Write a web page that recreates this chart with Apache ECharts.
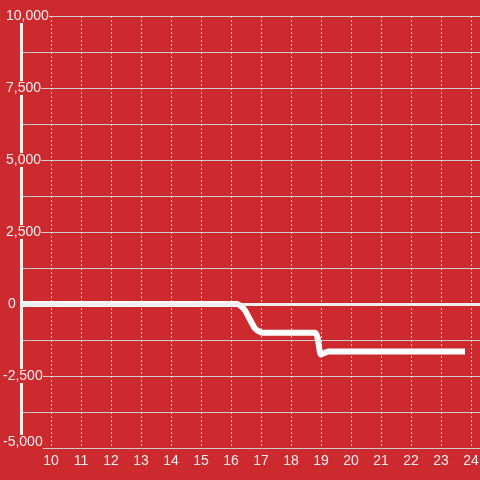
<!DOCTYPE html>
<html>
<head>
<meta charset="utf-8">
<script src="https://cdn.jsdelivr.net/npm/echarts@6/dist/echarts.min.js"></script>
<style>
  html, body { margin: 0; padding: 0; background: #cc2a2f; }
  #main { width: 480px; height: 480px; }
</style>
</head>
<body>
<div id="main"></div>
<script>
// hours on the x axis, values on the y axis
const hours = [9, 16.2, 16.45, 16.8, 17.05, 18.8, 19.0, 19.25, 23.8]
const values = [0, 0, -200, -850, -1000, -1000, -1750, -1650, -1650]
const yTicks = [-5000, -2500, 0, 2500, 5000, 7500, 10000]

const bg = '#cc2a2f'
const chart = echarts.init(document.getElementById('main'))

// label styles so the y labels sit where the original put them
const labelKey = v => {
  if (v === yTicks[0]) return 'low'
  if (v === 0) return 'zero'
  if (v < 0) return 'neg'
  return 'pos'
}

const option = {
  backgroundColor: bg,
  animation: false,
  grid: { left: 21, right: 0, top: 16, bottom: 32, outerBoundsMode: 'none' },
  xAxis: {
    type: 'value',
    min: 9,
    max: 24.3,
    interval: 1,
    axisLine: { show: false },
    axisTick: { show: false },
    axisLabel: {
      color: '#eee',
      fontSize: 14,
      margin: 6,
      showMinLabel: false,
      showMaxLabel: false
    },
    splitLine: { lineStyle: { color: '#ddd', type: [2, 2] } }
  },
  yAxis: {
    type: 'value',
    min: yTicks[0],
    max: yTicks[yTicks.length - 1],
    interval: 2500,
    axisLine: { show: true, lineStyle: { color: '#eee', width: 3 } },
    axisTick: { show: false },
    axisLabel: {
      color: '#eee',
      fontSize: 14,
      margin: 18,
      align: 'left',
      backgroundColor: bg,
      formatter: v => '{' + labelKey(v) + '|' + v.toLocaleString('en-US') + '}',
      rich: {
        pos: { color: '#eee', fontSize: 14, padding: [0, 0, 0, 3] },
        neg: { color: '#eee', fontSize: 14 },
        zero: { color: '#eee', fontSize: 14, padding: [0, 0, 0, 5] },
        low: { color: '#eee', fontSize: 14, padding: [0, 0, 12, 0] }
      }
    },
    splitLine: { lineStyle: { color: '#ccc', width: 1 } },
    minorTick: { show: false, splitNumber: 2 },
    minorSplitLine: { show: true, lineStyle: { color: '#ccc', width: 1 } }
  },
  series: [
    {
      type: 'line',
      data: hours.map((h, i) => [h, values[i]]),
      showSymbol: false,
      smooth: 0.2,
      lineStyle: { color: '#fff', width: 6 },
      markLine: {
        silent: true,
        symbol: 'none',
        label: { show: false },
        lineStyle: { color: '#eee', width: 3, type: 'solid' },
        data: [{ yAxis: 0 }]
      },
      z: 3
    }
  ]
}
chart.setOption(option)
</script>
</body>
</html>
